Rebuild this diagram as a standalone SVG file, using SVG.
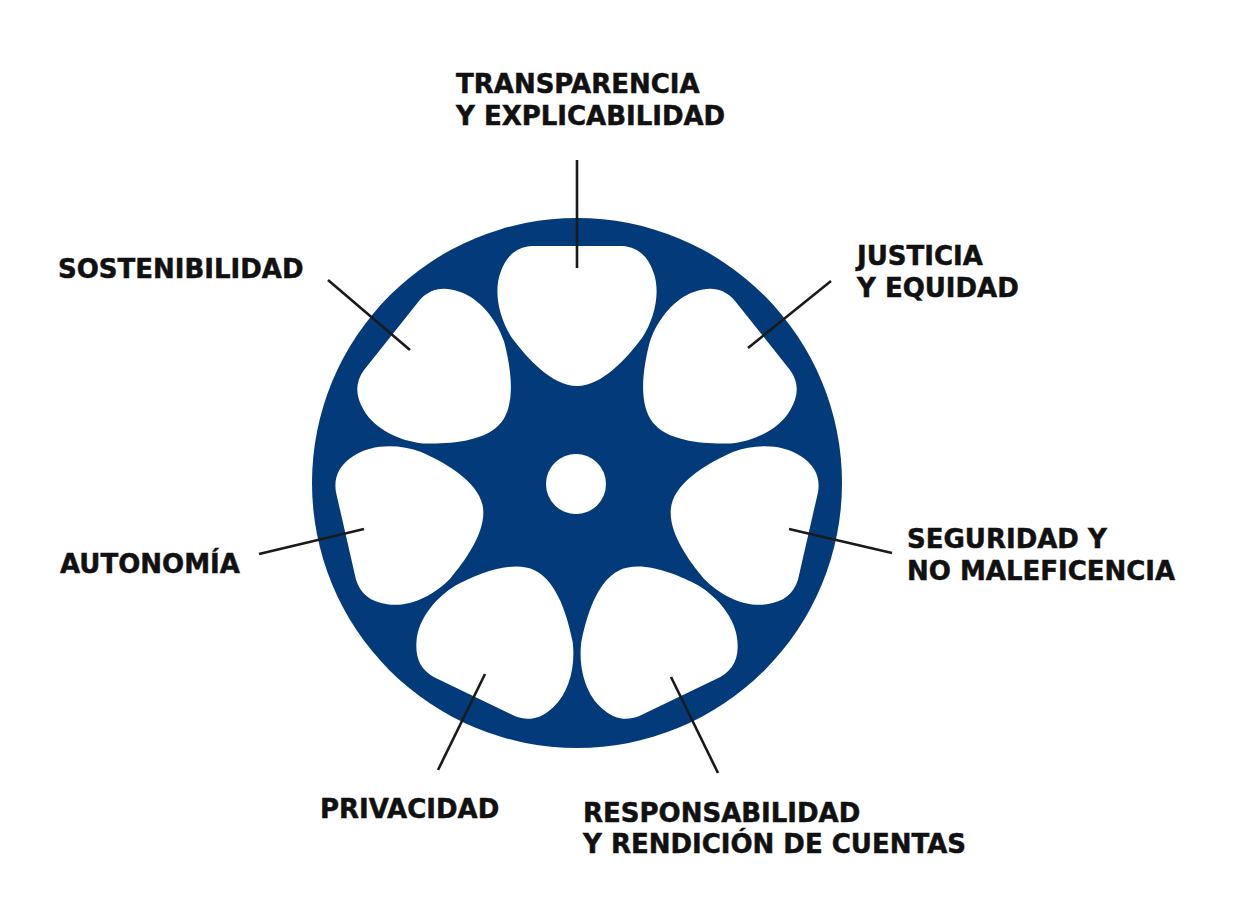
<svg xmlns="http://www.w3.org/2000/svg" width="1242" height="916" viewBox="0 0 1242 916">
<style>
.lbl{font-family:"DejaVu Sans","Verdana",sans-serif;font-weight:bold;font-size:26px;fill:#111;stroke:#111;stroke-width:0.5}
.lead{stroke:#1a1a1a;stroke-width:2.6;fill:none}
.hole{fill:#fff}
</style>
<defs>
<path id="holeShape" d="M0,-97 C25,-97 50,-125 65,-145 C78,-165 84,-192 76,-212 C70,-228 60,-236 45,-237 L-45,-237 C-60,-236 -70,-228 -76,-212 C-84,-192 -78,-165 -65,-145 C-50,-125 -25,-97 0,-97 Z"/>
</defs>
<rect width="1242" height="916" fill="#fff"/>
<g id="reel">
<circle cx="577" cy="483" r="265" fill="#033b7a"/>
<circle cx="576" cy="484" r="30" class="hole"/>
<g transform="translate(577,483)">
<use href="#holeShape" class="hole"/>
<use href="#holeShape" class="hole" transform="rotate(51.43)"/>
<use href="#holeShape" class="hole" transform="rotate(102.86)"/>
<use href="#holeShape" class="hole" transform="rotate(154.29)"/>
<use href="#holeShape" class="hole" transform="rotate(205.71)"/>
<use href="#holeShape" class="hole" transform="rotate(257.14)"/>
<use href="#holeShape" class="hole" transform="rotate(308.57)"/>
</g>
</g>
<g id="connectors">
<line class="lead" x1="577" y1="160" x2="577" y2="268"/>
<line class="lead" x1="328" y1="280" x2="410" y2="350"/>
<line class="lead" x1="831" y1="281" x2="748" y2="348"/>
<line class="lead" x1="789" y1="529" x2="892" y2="553"/>
<line class="lead" x1="364" y1="529" x2="259" y2="554"/>
<line class="lead" x1="485" y1="674" x2="438" y2="770"/>
<line class="lead" x1="671" y1="677" x2="718" y2="773"/>
</g>
<g id="label-transparencia"><text class="lbl" x="456" y="93">TRANSPARENCIA</text><text class="lbl" x="456" y="125">Y EXPLICABILIDAD</text></g>
<g id="label-sostenibilidad"><text class="lbl" x="58" y="278">SOSTENIBILIDAD</text></g>
<g id="label-justicia"><text class="lbl" x="857" y="265">JUSTICIA</text><text class="lbl" x="857" y="297">Y EQUIDAD</text></g>
<g id="label-seguridad"><text class="lbl" x="907" y="548">SEGURIDAD Y</text><text class="lbl" x="907" y="580">NO MALEFICENCIA</text></g>
<g id="label-autonomia"><text class="lbl" x="60" y="573">AUTONOMÍA</text></g>
<g id="label-privacidad"><text class="lbl" x="320" y="818">PRIVACIDAD</text></g>
<g id="label-responsabilidad"><text class="lbl" x="583" y="822">RESPONSABILIDAD</text><text class="lbl" x="583" y="853">Y RENDICIÓN DE CUENTAS</text></g>
</svg>
